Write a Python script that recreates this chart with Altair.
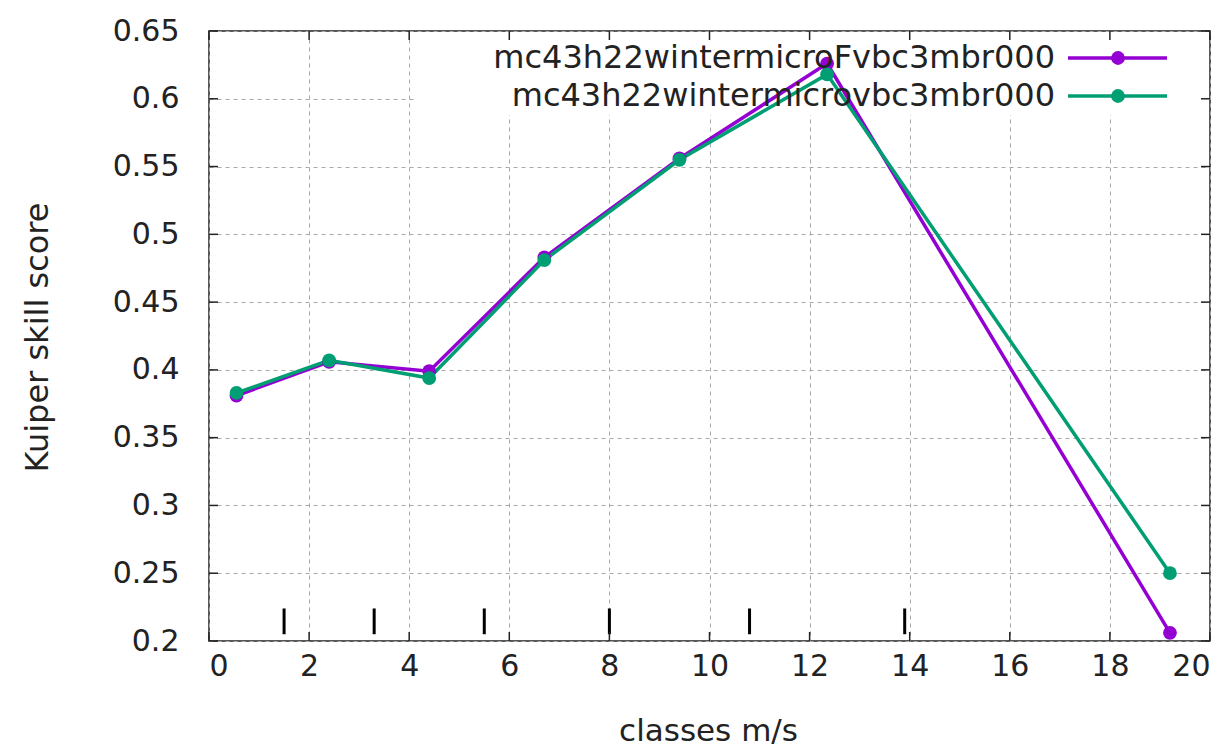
import altair as alt
import pandas as pd

# Wind-speed class centres (m/s) and Kuiper skill scores per experiment
class_centres = [0.55, 2.4, 4.4, 6.7, 9.4, 12.35, 19.2]
score_microF = [0.381, 0.406, 0.399, 0.483, 0.556, 0.626, 0.206]
score_micro = [0.383, 0.407, 0.394, 0.481, 0.555, 0.618, 0.250]
series_names = ["mc43h22wintermicroFvbc3mbr000", "mc43h22wintermicrovbc3mbr000"]
series_colors = ["#9400d3", "#009e73"]

# Class boundaries (m/s), marked near the bottom of the plot
class_bounds = [1.5, 3.3, 5.5, 8.0, 10.8, 13.9]
bound_mark_low = 0.205
bound_mark_high = 0.224

x_ticks = list(range(0, 21, 2))
y_ticks = [0.2, 0.25, 0.3, 0.35, 0.4, 0.45, 0.5, 0.55, 0.6, 0.65]

W, H = 1001, 610
FONT = "DejaVu Sans"
TEXT = "#222"

df = pd.DataFrame({
    "x": class_centres * 2,
    "y": score_microF + score_micro,
    "series": [series_names[0]] * len(class_centres) + [series_names[1]] * len(class_centres),
})
bounds_df = pd.DataFrame({"x": class_bounds, "y": [bound_mark_low] * len(class_bounds),
                          "y2": [bound_mark_high] * len(class_bounds)})
xt_df = pd.DataFrame({"x": x_ticks})
yt_df = pd.DataFrame({"y": y_ticks})

xscale = alt.Scale(domain=[0, 20], nice=False, zero=False)
yscale = alt.Scale(domain=[0.2, 0.65], nice=False, zero=False)
cscale = alt.Scale(domain=series_names, range=series_colors)

x_axis = alt.Axis(values=x_ticks, title="classes m/s", grid=True, gridDash=[4, 4],
                  gridColor="#a8a8a8", gridWidth=1, domain=False, tickSize=0,
                  labelFontSize=30, labelFont=FONT, labelColor=TEXT, labelPadding=10,
                  titleFont=FONT, titleFontSize=31, titleFontWeight="normal", titleColor=TEXT,
                  titleX=499, titleY=90, titleBaseline="middle", titleAlign="center")
y_axis = alt.Axis(values=y_ticks, format=".2~f", title="Kuiper skill score", grid=True,
                  gridDash=[4, 4], gridColor="#a8a8a8", gridWidth=1, domain=False, tickSize=0,
                  labelFontSize=30, labelFont=FONT, labelColor=TEXT, labelPadding=30,
                  titleFont=FONT, titleFontSize=32, titleFontWeight="normal", titleColor=TEXT,
                  titleX=-172, titleY=306, titleAngle=-90, titleAlign="center",
                  titleBaseline="middle")

base_axes = alt.Chart(df).mark_point(opacity=0).encode(
    x=alt.X("x:Q", scale=xscale, axis=x_axis),
    y=alt.Y("y:Q", scale=yscale, axis=y_axis),
)

# Opaque key box that hides the grid behind the legend
key_box = alt.Chart(df.head(1)).mark_rect(color="white").encode(
    x=alt.value(206), x2=alt.value(1000), y=alt.value(1), y2=alt.value(84)
)

# Inward tick marks on all four sides
tick_len = 9
xt_bottom = alt.Chart(xt_df).mark_rule(color=TEXT, strokeWidth=1.5).encode(
    x=alt.X("x:Q", scale=xscale), y=alt.value(H), y2=alt.value(H - tick_len))
xt_top = alt.Chart(xt_df).mark_rule(color=TEXT, strokeWidth=1.5).encode(
    x=alt.X("x:Q", scale=xscale), y=alt.value(0), y2=alt.value(tick_len))
yt_left = alt.Chart(yt_df).mark_rule(color=TEXT, strokeWidth=1.5).encode(
    y=alt.Y("y:Q", scale=yscale), x=alt.value(0), x2=alt.value(tick_len))
yt_right = alt.Chart(yt_df).mark_rule(color=TEXT, strokeWidth=1.5).encode(
    y=alt.Y("y:Q", scale=yscale), x=alt.value(W), x2=alt.value(W - tick_len))

bounds = alt.Chart(bounds_df).mark_rule(color="black", strokeWidth=3).encode(
    x=alt.X("x:Q", scale=xscale),
    y=alt.Y("y:Q", scale=yscale),
    y2="y2:Q",
)

lines = alt.Chart(df).mark_line(strokeWidth=3.5).encode(
    x=alt.X("x:Q", scale=xscale),
    y=alt.Y("y:Q", scale=yscale),
    color=alt.Color("series:N", scale=cscale, legend=None),
)
points = alt.Chart(df).mark_point(filled=True, opacity=1, size=190, shape="circle").encode(
    x=alt.X("x:Q", scale=xscale),
    y=alt.Y("y:Q", scale=yscale),
    color=alt.Color("series:N", scale=cscale, legend=None),
)

# Key entries: label, line sample and marker for each series
key_layers = []
for i, (name, col) in enumerate(zip(series_names, series_colors)):
    ky = 27 + 38 * i
    kdf = pd.DataFrame({"series": [name]})
    key_layers.append(alt.Chart(kdf).mark_text(
        align="right", baseline="middle", font=FONT, fontSize=32, color=TEXT
    ).encode(text="series:N", x=alt.value(846), y=alt.value(ky)))
    key_layers.append(alt.Chart(kdf).mark_rule(color=col, strokeWidth=3.5).encode(
        x=alt.value(859), x2=alt.value(958), y=alt.value(ky)))
    key_layers.append(alt.Chart(kdf).mark_point(
        filled=True, opacity=1, size=190, shape="circle", color=col
    ).encode(x=alt.value(909), y=alt.value(ky)))

chart = alt.layer(
    base_axes, key_box, bounds, lines, points, *key_layers,
    xt_bottom, xt_top, yt_left, yt_right,
).properties(
    width=W, height=H,
    autosize=alt.AutoSizeParams(type="none"),
    padding={"left": 209, "top": 31, "right": 14, "bottom": 106},
    background="white",
).configure_view(stroke=TEXT, strokeWidth=1.5)

chart.save("out.html", embed_options={"renderer": "svg", "actions": False})
